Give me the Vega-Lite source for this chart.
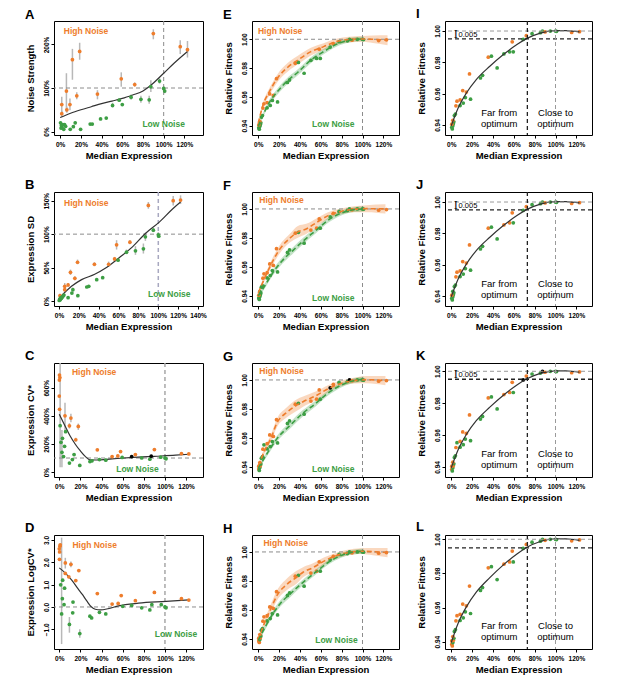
{
  "$schema": "https://vega.github.io/schema/vega-lite/v6.json",
  "padding": {"left": 24, "top": 7, "right": 4, "bottom": 2},
  "background": "white",
  "datasets": {
    "pA": [
      {"x":1.5,"y":41,"lo":34,"hi":48,"g":"H"},{"x":1.5,"y":62,"lo":45,"hi":80,"g":"H"},{"x":6,"y":93,"lo":45,"hi":134,"g":"H"},
      {"x":6.4,"y":50,"lo":43,"hi":57,"g":"H"},{"x":9.4,"y":62,"lo":49,"hi":76,"g":"H"},{"x":11.8,"y":165,"lo":119,"hi":190,"g":"H"},
      {"x":16,"y":82,"lo":74,"hi":90,"g":"H"},{"x":18.8,"y":184,"lo":165,"hi":204,"g":"H"},{"x":36,"y":86,"lo":74,"hi":95,"g":"H"},
      {"x":59,"y":121,"lo":103,"hi":136,"g":"H"},{"x":72,"y":108,"lo":103,"hi":113,"g":"H"},{"x":90,"y":225,"lo":212,"hi":235,"g":"H"},
      {"x":116,"y":195,"lo":178,"hi":210,"g":"H"},{"x":123,"y":188,"lo":170,"hi":208,"g":"H"},
      {"x":0.3,"y":20,"g":"L"},{"x":0.8,"y":8,"g":"L"},{"x":1.2,"y":14,"lo":9,"hi":19,"g":"L"},{"x":1.8,"y":9,"g":"L"},
      {"x":2.6,"y":16,"g":"L"},{"x":3.4,"y":5,"g":"L"},{"x":4.2,"y":16,"g":"L"},{"x":5.2,"y":12,"g":"L"},
      {"x":9.7,"y":5,"g":"L"},{"x":12.7,"y":11,"g":"L"},{"x":14.5,"y":20,"lo":16,"hi":24,"g":"L"},{"x":19.7,"y":5,"g":"L"},
      {"x":29,"y":17,"g":"L"},{"x":31,"y":17,"g":"L"},{"x":39,"y":29,"g":"L"},{"x":44.5,"y":31,"g":"L"},
      {"x":50.6,"y":60,"lo":55,"hi":66,"g":"L"},{"x":57,"y":72,"g":"L"},{"x":60,"y":62,"g":"L"},{"x":68.5,"y":79,"lo":73,"hi":85,"g":"L"},
      {"x":78,"y":74,"lo":66,"hi":82,"g":"L"},{"x":86,"y":73,"lo":64,"hi":82,"g":"L"},{"x":87.6,"y":103,"lo":91,"hi":118,"g":"L"},
      {"x":96,"y":116,"lo":110,"hi":122,"g":"L"},{"x":100,"y":99,"lo":94,"hi":104,"g":"L"},{"x":101,"y":93,"lo":88,"hi":98,"g":"L"}
    ],
    "pB": [
      {"x":1,"y":8,"lo":5,"hi":11,"g":"H"},{"x":5.8,"y":22,"lo":18,"hi":27,"g":"H"},{"x":5.8,"y":17,"lo":14,"hi":20,"g":"H"},
      {"x":9.2,"y":24,"lo":21,"hi":27,"g":"H"},{"x":11.6,"y":43,"lo":39,"hi":47,"g":"H"},{"x":16,"y":34,"lo":31,"hi":37,"g":"H"},
      {"x":18.7,"y":58,"lo":55,"hi":62,"g":"H"},{"x":35.7,"y":55,"lo":52,"hi":58,"g":"H"},{"x":50,"y":55,"lo":51,"hi":59,"g":"H"},
      {"x":56,"y":63,"lo":60,"hi":66,"g":"H"},{"x":58,"y":84,"lo":77,"hi":91,"g":"H"},{"x":71.4,"y":88,"lo":85,"hi":91,"g":"H"},
      {"x":90,"y":143,"lo":138,"hi":148,"g":"H"},{"x":115,"y":150,"lo":143,"hi":157,"g":"H"},{"x":122.4,"y":151,"lo":145,"hi":158,"g":"H"},
      {"x":0.3,"y":1,"g":"L"},{"x":0.8,"y":3,"g":"L"},{"x":1.3,"y":2,"g":"L"},{"x":1.8,"y":5,"g":"L"},{"x":2.5,"y":4,"g":"L"},
      {"x":3.2,"y":6,"g":"L"},{"x":4,"y":7,"g":"L"},{"x":5,"y":9,"g":"L"},{"x":9.2,"y":5,"g":"L"},{"x":13,"y":12,"g":"L"},
      {"x":14,"y":17,"lo":14,"hi":20,"g":"L"},{"x":19,"y":8,"g":"L"},{"x":28,"y":21,"g":"L"},{"x":30,"y":22,"g":"L"},
      {"x":38,"y":32,"g":"L"},{"x":44,"y":35,"g":"L"},{"x":59.5,"y":61,"g":"L"},{"x":68,"y":73,"lo":70,"hi":77,"g":"L"},
      {"x":77,"y":75,"lo":69,"hi":82,"g":"L"},{"x":85,"y":78,"lo":71,"hi":86,"g":"L"},{"x":87,"y":96,"lo":90,"hi":102,"g":"L"},
      {"x":95,"y":106,"lo":103,"hi":109,"g":"L"},{"x":100,"y":99,"lo":95,"hi":103,"g":"L"},{"x":100.5,"y":97,"g":"L"}
    ],
    "pC": [
      {"x":0.2,"y":690,"g":"H"},{"x":0.6,"y":672,"g":"H"},{"x":0.1,"y":655,"g":"H"},{"x":0,"y":541,"g":"H"},{"x":0.3,"y":447,"g":"H"},
      {"x":5.4,"y":400,"lo":282,"hi":494,"g":"H"},{"x":9.6,"y":329,"lo":310,"hi":348,"g":"H"},{"x":11,"y":384,"lo":355,"hi":415,"g":"H"},
      {"x":15.6,"y":230,"lo":215,"hi":245,"g":"H"},{"x":18,"y":325,"lo":300,"hi":345,"g":"H"},{"x":36,"y":158,"g":"H"},
      {"x":50,"y":110,"g":"H"},{"x":55.4,"y":115,"g":"H"},{"x":58,"y":146,"g":"H"},{"x":72,"y":125,"g":"H"},
      {"x":90,"y":160,"g":"H"},{"x":115.6,"y":132,"g":"H"},{"x":122.6,"y":129,"g":"H"},
      {"x":0.8,"y":330,"lo":35,"hi":776,"g":"L"},{"x":1.6,"y":212,"g":"L"},{"x":2.5,"y":141,"lo":35,"hi":300,"g":"L"},
      {"x":3,"y":240,"g":"L"},{"x":4,"y":110,"g":"L"},{"x":5,"y":183,"g":"L"},{"x":6,"y":287,"g":"L"},
      {"x":9.6,"y":64,"g":"L"},{"x":12.4,"y":89,"g":"L"},{"x":14,"y":125,"g":"L"},{"x":19.4,"y":47,"g":"L"},
      {"x":29,"y":75,"g":"L"},{"x":31,"y":80,"g":"L"},{"x":38,"y":89,"g":"L"},{"x":44,"y":85,"g":"L"},
      {"x":59.5,"y":104,"g":"L"},{"x":78,"y":101,"g":"L"},{"x":85.7,"y":92,"g":"L"},{"x":96,"y":106,"g":"L"},
      {"x":100,"y":101,"g":"L"},{"x":101,"y":94,"g":"L"},
      {"x":68.5,"y":110,"g":"M"},{"x":87,"y":113,"g":"M"}
    ],
    "pD": [
      {"x":0,"y":2.6,"g":"H"},{"x":0.3,"y":2.46,"g":"H"},{"x":0.6,"y":2.72,"g":"H"},{"x":0.9,"y":2.78,"g":"H"},{"x":0.2,"y":2.13,"g":"H"},
      {"x":5.7,"y":1.97,"lo":1.72,"hi":2.2,"g":"H"},{"x":5.7,"y":1.5,"g":"H"},{"x":9,"y":1.35,"g":"H"},
      {"x":11,"y":1.91,"lo":1.78,"hi":2.03,"g":"H"},{"x":15.6,"y":1.18,"g":"H"},{"x":18.5,"y":1.63,"g":"H"},
      {"x":36,"y":0.6,"g":"H"},{"x":50,"y":0.13,"g":"H"},{"x":55.7,"y":0.16,"g":"H"},{"x":58.6,"y":0.51,"g":"H"},
      {"x":72,"y":0.28,"g":"H"},{"x":90,"y":0.65,"g":"H"},{"x":115.6,"y":0.37,"g":"H"},{"x":122.6,"y":0.31,"g":"H"},
      {"x":1.3,"y":0.99,"g":"L"},{"x":2.2,"y":-0.31,"lo":-1.66,"hi":3.1,"g":"L"},{"x":2.9,"y":0.37,"g":"L"},
      {"x":3.2,"y":1.2,"g":"L"},{"x":4.5,"y":0.1,"g":"L"},{"x":5,"y":0.84,"g":"L"},
      {"x":9.6,"y":-0.78,"lo":-1.15,"hi":-0.45,"g":"L"},{"x":12.7,"y":-0.26,"g":"L"},{"x":13,"y":0.22,"g":"L"},
      {"x":19.4,"y":-1.19,"lo":-1.38,"hi":-1.0,"g":"L"},{"x":29,"y":-0.41,"g":"L"},{"x":30.6,"y":-0.49,"g":"L"},
      {"x":38,"y":-0.24,"g":"L"},{"x":44,"y":-0.31,"g":"L"},{"x":60,"y":0.03,"g":"L"},{"x":68.5,"y":0.07,"g":"L"},
      {"x":78,"y":-0.04,"g":"L"},{"x":85.7,"y":-0.13,"g":"L"},{"x":87.6,"y":0.1,"g":"L"},{"x":96.5,"y":0.1,"g":"L"},
      {"x":100,"y":0,"g":"L"},{"x":101,"y":-0.04,"g":"L"}
    ],
    "cA": [{"x":0,"y":32},{"x":10,"y":42},{"x":20,"y":50},{"x":30,"y":57},{"x":40,"y":64},{"x":50,"y":70},{"x":60,"y":76},{"x":70,"y":84},{"x":80,"y":93},{"x":87,"y":105},{"x":100,"y":134},{"x":110,"y":157},{"x":123,"y":184}],
    "cB": [{"x":0.7,"y":5},{"x":12.6,"y":22},{"x":22.8,"y":32},{"x":36,"y":40},{"x":46.6,"y":49},{"x":60,"y":64},{"x":74,"y":81},{"x":87,"y":101},{"x":101,"y":118},{"x":114.6,"y":138},{"x":122.4,"y":148}],
    "cC": [{"x":0,"y":412},{"x":5,"y":335},{"x":10,"y":260},{"x":15,"y":200},{"x":20,"y":150},{"x":25,"y":108},{"x":29,"y":87},{"x":35,"y":86},{"x":50,"y":94},{"x":70,"y":104},{"x":90,"y":112},{"x":110,"y":120},{"x":123,"y":127}],
    "cD": [{"x":0,"y":1.75},{"x":5,"y":1.55},{"x":11.8,"y":1.2},{"x":18,"y":0.8},{"x":22,"y":0.55},{"x":26,"y":0.27},{"x":30,"y":0.02},{"x":34,"y":-0.1},{"x":39,"y":-0.13},{"x":46,"y":-0.08},{"x":56,"y":0.05},{"x":75,"y":0.17},{"x":101,"y":0.25},{"x":122.6,"y":0.32}],
    "fit": [
      {"x":0.5,"f":0.9385,"a":"L","b":"L","c":"H","d":"H"},{"x":1.0,"f":0.9375,"a":"L","b":"L","c":"L","d":"H"},
      {"x":1.5,"f":0.9395,"a":"L","b":"L","c":"L","d":"L"},{"x":2.0,"f":0.9408,"a":"L","b":"L","c":"H","d":"H"},
      {"x":2.5,"f":0.942,"a":"L","b":"L","c":"L","d":"L"},{"x":3.0,"f":0.946,"a":"L","b":"L","c":"L","d":"L"},
      {"x":4.0,"f":0.947,"a":"L","b":"L","c":"L","d":"L"},{"x":0.5,"f":0.9405,"a":"H","b":"H","c":"H","d":"H"},
      {"x":1.5,"f":0.943,"a":"H","b":"L","c":"H","d":"H"},{"x":4.5,"f":0.9522,"a":"H","b":"H","c":"H","d":"H"},
      {"x":5.5,"f":0.9552,"a":"H","b":"H","c":"L","d":"H"},{"x":8.5,"f":0.956,"a":"H","b":"H","c":"H","d":"H"},
      {"x":11,"f":0.962,"a":"H","b":"H","c":"H","d":"H"},{"x":14.5,"f":0.961,"a":"H","b":"H","c":"H","d":"H"},
      {"x":17.5,"f":0.9726,"a":"H","b":"H","c":"H","d":"H"},{"x":8.5,"f":0.9524,"a":"L","b":"L","c":"L","d":"L"},
      {"x":11.5,"f":0.954,"a":"L","b":"L","c":"L","d":"L"},{"x":13.5,"f":0.9575,"a":"L","b":"L","c":"L","d":"L"},
      {"x":18.5,"f":0.9565,"a":"L","b":"L","c":"L","d":"L"},{"x":28,"f":0.97,"a":"L","b":"L","c":"L","d":"L"},
      {"x":30,"f":0.9717,"a":"L","b":"L","c":"L","d":"L"},{"x":35.5,"f":0.9833,"a":"H","b":"H","c":"H","d":"H"},
      {"x":38.5,"f":0.9839,"a":"L","b":"L","c":"L","d":"L"},{"x":44,"f":0.9764,"a":"L","b":"L","c":"L","d":"L"},
      {"x":50.5,"f":0.9854,"a":"L","b":"H","c":"H","d":"H"},{"x":56,"f":0.9867,"a":"L","b":"H","c":"H","d":"H"},
      {"x":59.5,"f":0.9867,"a":"L","b":"L","c":"L","d":"L"},{"x":58.5,"f":0.9931,"a":"H","b":"H","c":"H","d":"H"},
      {"x":69,"f":0.9946,"a":"L","b":"L","c":"M","d":"L"},{"x":72,"f":0.997,"a":"H","b":"H","c":"H","d":"H"},
      {"x":77.5,"f":0.9983,"a":"L","b":"L","c":"L","d":"L"},{"x":85.5,"f":0.9989,"a":"L","b":"L","c":"L","d":"L"},
      {"x":87.5,"f":1.0,"a":"L","b":"L","c":"M","d":"L"},{"x":90,"f":0.9994,"a":"H","b":"H","c":"H","d":"H"},
      {"x":95,"f":1.0,"a":"L","b":"L","c":"L","d":"L"},{"x":100,"f":1.0,"a":"L","b":"L","c":"L","d":"L"},
      {"x":101,"f":0.9998,"a":"L","b":"L","c":"L","d":"L"},{"x":115.5,"f":0.9991,"a":"H","b":"H","c":"H","d":"H"},
      {"x":123,"f":0.9996,"a":"H","b":"H","c":"H","d":"H"}
    ],
    "bE": [
      {"x":0,"y":0.9415,"lo":0.94,"hi":0.943,"g":"H"},{"x":4.6,"y":0.9544,"lo":0.9525,"hi":0.9563,"g":"H"},
      {"x":10.7,"y":0.9636,"lo":0.9612,"hi":0.966,"g":"H"},{"x":18.3,"y":0.9729,"lo":0.9702,"hi":0.9756,"g":"H"},
      {"x":29,"y":0.981,"lo":0.978,"hi":0.984,"g":"H"},{"x":38,"y":0.9856,"lo":0.9826,"hi":0.9886,"g":"H"},
      {"x":50.5,"y":0.9914,"lo":0.9887,"hi":0.9941,"g":"H"},{"x":62.7,"y":0.9949,"lo":0.9925,"hi":0.9973,"g":"H"},
      {"x":75,"y":0.9984,"lo":0.9964,"hi":1.0004,"g":"H"},{"x":87,"y":0.9998,"lo":0.9978,"hi":1.0018,"g":"H"},
      {"x":99.4,"y":1.0002,"lo":0.9982,"hi":1.0022,"g":"H"},{"x":110,"y":1.0,"lo":0.9974,"hi":1.0026,"g":"H"},
      {"x":124,"y":0.9993,"lo":0.9958,"hi":1.0028,"g":"H"},
      {"x":0,"y":0.9395,"lo":0.9382,"hi":0.9408,"g":"L"},{"x":4.6,"y":0.9474,"lo":0.9458,"hi":0.949,"g":"L"},
      {"x":10.7,"y":0.9562,"lo":0.9543,"hi":0.9581,"g":"L"},{"x":18.3,"y":0.9636,"lo":0.9615,"hi":0.9657,"g":"L"},
      {"x":29,"y":0.9718,"lo":0.9697,"hi":0.9739,"g":"L"},{"x":38,"y":0.9771,"lo":0.975,"hi":0.9792,"g":"L"},
      {"x":50.5,"y":0.9856,"lo":0.9836,"hi":0.9876,"g":"L"},{"x":62.7,"y":0.9914,"lo":0.9896,"hi":0.9932,"g":"L"},
      {"x":75,"y":0.9965,"lo":0.9948,"hi":0.9982,"g":"L"},{"x":87,"y":0.9993,"lo":0.9977,"hi":1.0009,"g":"L"},
      {"x":99.4,"y":1.0002,"lo":0.9986,"hi":1.0018,"g":"L"},{"x":101,"y":1.0002,"lo":0.9986,"hi":1.0018,"g":"L"}
    ],
    "bF": [
      {"x":0,"y":0.942,"lo":0.9405,"hi":0.9435,"g":"H"},{"x":7.6,"y":0.9546,"lo":0.9526,"hi":0.9566,"g":"H"},
      {"x":13.8,"y":0.9638,"lo":0.9613,"hi":0.9663,"g":"H"},{"x":20,"y":0.9716,"lo":0.9688,"hi":0.9744,"g":"H"},
      {"x":30.6,"y":0.98,"lo":0.977,"hi":0.983,"g":"H"},{"x":38,"y":0.9842,"lo":0.9802,"hi":0.9882,"g":"H"},
      {"x":46,"y":0.9862,"lo":0.9827,"hi":0.9897,"g":"H"},{"x":56.6,"y":0.991,"lo":0.9882,"hi":0.9938,"g":"H"},
      {"x":67,"y":0.9954,"lo":0.993,"hi":0.9978,"g":"H"},{"x":79.5,"y":0.9983,"lo":0.9963,"hi":1.0003,"g":"H"},
      {"x":91.7,"y":0.9998,"lo":0.9978,"hi":1.0018,"g":"H"},{"x":104,"y":1.0002,"lo":0.9978,"hi":1.0026,"g":"H"},
      {"x":122,"y":1.0,"lo":0.9968,"hi":1.0032,"g":"H"},
      {"x":0,"y":0.94,"lo":0.9387,"hi":0.9413,"g":"L"},{"x":7.6,"y":0.9485,"lo":0.9467,"hi":0.9503,"g":"L"},
      {"x":13.8,"y":0.9558,"lo":0.9538,"hi":0.9578,"g":"L"},{"x":23,"y":0.9643,"lo":0.9621,"hi":0.9665,"g":"L"},
      {"x":33.6,"y":0.9716,"lo":0.9694,"hi":0.9738,"g":"L"},{"x":42.8,"y":0.9777,"lo":0.9755,"hi":0.9799,"g":"L"},
      {"x":55,"y":0.985,"lo":0.983,"hi":0.987,"g":"L"},{"x":67,"y":0.9922,"lo":0.9904,"hi":0.994,"g":"L"},
      {"x":79.5,"y":0.9971,"lo":0.9955,"hi":0.9987,"g":"L"},{"x":91.7,"y":0.9995,"lo":0.9979,"hi":1.0011,"g":"L"},
      {"x":101,"y":1.0,"lo":0.9982,"hi":1.0018,"g":"L"}
    ],
    "bG": [
      {"x":0,"y":0.9405,"lo":0.939,"hi":0.942,"g":"H"},{"x":6,"y":0.951,"lo":0.949,"hi":0.953,"g":"H"},
      {"x":12,"y":0.9595,"lo":0.957,"hi":0.962,"g":"H"},{"x":18,"y":0.9704,"lo":0.9674,"hi":0.9734,"g":"H"},
      {"x":27.5,"y":0.9777,"lo":0.9742,"hi":0.9812,"g":"H"},{"x":36.7,"y":0.9825,"lo":0.9785,"hi":0.9865,"g":"H"},
      {"x":43,"y":0.985,"lo":0.9815,"hi":0.9885,"g":"H"},{"x":55,"y":0.989,"lo":0.986,"hi":0.992,"g":"H"},
      {"x":67,"y":0.9939,"lo":0.9914,"hi":0.9964,"g":"H"},{"x":79.5,"y":0.9976,"lo":0.9956,"hi":0.9996,"g":"H"},
      {"x":91.7,"y":0.9995,"lo":0.9975,"hi":1.0015,"g":"H"},{"x":104,"y":1.0002,"lo":0.9977,"hi":1.0027,"g":"H"},
      {"x":122,"y":0.9995,"lo":0.9963,"hi":1.0027,"g":"H"},
      {"x":0,"y":0.939,"lo":0.9377,"hi":0.9403,"g":"L"},{"x":9,"y":0.9498,"lo":0.948,"hi":0.9516,"g":"L"},
      {"x":18,"y":0.9595,"lo":0.9575,"hi":0.9615,"g":"L"},{"x":30.6,"y":0.9687,"lo":0.9665,"hi":0.9709,"g":"L"},
      {"x":42.8,"y":0.977,"lo":0.9748,"hi":0.9792,"g":"L"},{"x":55,"y":0.9837,"lo":0.9817,"hi":0.9857,"g":"L"},
      {"x":67,"y":0.991,"lo":0.9892,"hi":0.9928,"g":"L"},{"x":79.5,"y":0.9964,"lo":0.9948,"hi":0.998,"g":"L"},
      {"x":91.7,"y":0.9995,"lo":0.9979,"hi":1.0011,"g":"L"},{"x":101,"y":1.0005,"lo":0.9987,"hi":1.0023,"g":"L"}
    ],
    "bH": [
      {"x":0,"y":0.939,"lo":0.9375,"hi":0.9405,"g":"H"},{"x":6,"y":0.951,"lo":0.949,"hi":0.953,"g":"H"},
      {"x":12,"y":0.9607,"lo":0.9577,"hi":0.9637,"g":"H"},{"x":18,"y":0.97,"lo":0.9665,"hi":0.9735,"g":"H"},
      {"x":27.5,"y":0.9777,"lo":0.9737,"hi":0.9817,"g":"H"},{"x":36.7,"y":0.9825,"lo":0.978,"hi":0.987,"g":"H"},
      {"x":43,"y":0.986,"lo":0.9825,"hi":0.9895,"g":"H"},{"x":52,"y":0.989,"lo":0.986,"hi":0.992,"g":"H"},
      {"x":64,"y":0.994,"lo":0.9915,"hi":0.9965,"g":"H"},{"x":73,"y":0.997,"lo":0.995,"hi":0.999,"g":"H"},
      {"x":85.6,"y":0.9995,"lo":0.9975,"hi":1.0015,"g":"H"},{"x":98,"y":1.0005,"lo":0.9985,"hi":1.0025,"g":"H"},
      {"x":110,"y":1.0002,"lo":0.9977,"hi":1.0027,"g":"H"},{"x":124,"y":0.9995,"lo":0.9963,"hi":1.0027,"g":"H"},
      {"x":0,"y":0.939,"lo":0.9377,"hi":0.9403,"g":"L"},{"x":6,"y":0.9473,"lo":0.9455,"hi":0.9491,"g":"L"},
      {"x":12,"y":0.955,"lo":0.953,"hi":0.957,"g":"L"},{"x":21,"y":0.9643,"lo":0.9621,"hi":0.9665,"g":"L"},
      {"x":30.6,"y":0.971,"lo":0.9688,"hi":0.9732,"g":"L"},{"x":43,"y":0.979,"lo":0.977,"hi":0.981,"g":"L"},
      {"x":55,"y":0.986,"lo":0.9842,"hi":0.9878,"g":"L"},{"x":67,"y":0.9927,"lo":0.9911,"hi":0.9943,"g":"L"},
      {"x":79.5,"y":0.9976,"lo":0.996,"hi":0.9992,"g":"L"},{"x":91.7,"y":1.0,"lo":0.9984,"hi":1.0016,"g":"L"},
      {"x":101,"y":1.0005,"lo":0.9987,"hi":1.0023,"g":"L"}
    ],
    "opt": [{"x":0,"y":0.9395},{"x":6.5,"y":0.9507},{"x":14.5,"y":0.9604},{"x":24,"y":0.969},{"x":37,"y":0.9775},{"x":50,"y":0.985},{"x":63,"y":0.9914},{"x":72.6,"y":0.9953},{"x":85.5,"y":0.9987},{"x":100,"y":1.0003},{"x":110,"y":1.0002},{"x":123,"y":0.9994}]
  },
  "columns": 3,
  "spacing": {"row": 17, "column": 15},
  "concat": [
    {"title": "A", "width": 149, "height": 114, "layer": [
      {"data": {"name": "pA"}, "mark": {"type": "rule", "color": "#b8b8b8", "strokeWidth": 1.5},
       "encoding": {"x": {"field": "x", "type": "quantitative", "title": "Median Expression", "scale": {"domain": [-6, 138], "nice": false, "zero": false}, "axis": {"values": [0,20,40,60,80,100,120], "labelExpr": "datum.value + '%'", "labelOverlap": false, "tickCount": 12}},
                    "y": {"field": "lo", "type": "quantitative", "title": "Noise Strength", "scale": {"domain": [-8, 254], "nice": false, "zero": false}, "axis": {"values": [0,100,200], "labelExpr": "datum.value + '%'", "labelOverlap": false, "tickCount": 12}},
                    "y2": {"field": "hi"}}},
      {"data": {"values": [{}]}, "mark": {"type": "rule", "color": "#8c8c8c", "strokeDash": [4,3]}, "encoding": {"y": {"datum": 100, "type": "quantitative"}}},
      {"data": {"values": [{}]}, "mark": {"type": "rule", "color": "#8c8c8c", "strokeDash": [4,3]}, "encoding": {"x": {"datum": 100, "type": "quantitative"}}},
      {"data": {"name": "cA"}, "mark": {"type": "line", "color": "#333", "strokeWidth": 1.2, "interpolate": "monotone"}, "encoding": {"x": {"field": "x", "type": "quantitative"}, "y": {"field": "y", "type": "quantitative"}}},
      {"data": {"name": "pA"}, "mark": {"type": "circle", "size": 14, "opacity": 1}, "encoding": {"x": {"field": "x", "type": "quantitative"}, "y": {"field": "y", "type": "quantitative"}, "color": {"field": "g", "type": "nominal", "scale": {"domain": ["H","L","M"], "range": ["#EE7D2C","#3D9E44","#000000"]}, "legend": null}}},
      {"data": {"values": [{"x": 25, "y": 231, "t": "High Noise", "g": "H"}, {"x": 100, "y": 18, "t": "Low Noise", "g": "L"}]}, "mark": {"type": "text", "fontWeight": "bold", "fontSize": 8.5}, "encoding": {"x": {"field": "x", "type": "quantitative"}, "y": {"field": "y", "type": "quantitative"}, "text": {"field": "t"}, "color": {"field": "g", "type": "nominal", "legend": null}}}
    ]},
    {"title": "E", "width": 147, "height": 114, "layer": [
      {"data": {"name": "bE"}, "mark": {"type": "area", "opacity": 0.3, "interpolate": "monotone"},
       "encoding": {"x": {"field": "x", "type": "quantitative", "title": "Median Expression", "scale": {"domain": [-6, 135], "nice": false, "zero": false}, "axis": {"values": [0,20,40,60,80,100,120], "labelExpr": "datum.value + '%'", "labelOverlap": false, "tickCount": 12}},
                    "y": {"field": "lo", "type": "quantitative", "stack": null, "title": "Relative Fitness", "scale": {"domain": [0.9335, 1.0127], "nice": false, "zero": false}, "axis": {"values": [0.94,0.96,0.98,1.0], "format": ".2f", "labelOverlap": false, "tickCount": 12}},
                    "y2": {"field": "hi"},
                    "color": {"field": "g", "type": "nominal", "scale": {"domain": ["H","L","M"], "range": ["#EE7D2C","#3D9E44","#000000"]}, "legend": null}}},
      {"data": {"values": [{}]}, "mark": {"type": "rule", "color": "#8c8c8c", "strokeDash": [4,3]}, "encoding": {"y": {"datum": 1.0, "type": "quantitative"}}},
      {"data": {"values": [{}]}, "mark": {"type": "rule", "color": "#8c8c8c", "strokeDash": [4,3]}, "encoding": {"x": {"datum": 100, "type": "quantitative"}}},
      {"data": {"name": "fit"}, "mark": {"type": "circle", "size": 14, "opacity": 1}, "encoding": {"x": {"field": "x", "type": "quantitative"}, "y": {"field": "f", "type": "quantitative"}, "color": {"field": "a", "type": "nominal", "legend": null}}},
      {"data": {"name": "bE"}, "mark": {"type": "line", "strokeDash": [5,3], "strokeWidth": 1.6, "interpolate": "monotone"}, "encoding": {"x": {"field": "x", "type": "quantitative"}, "y": {"field": "y", "type": "quantitative"}, "color": {"field": "g", "type": "nominal", "legend": null}}},
      {"data": {"values": [{"x": 21, "y": 1.0058, "t": "High Noise", "g": "H"}, {"x": 72, "y": 0.9412, "t": "Low Noise", "g": "L"}]}, "mark": {"type": "text", "fontWeight": "bold", "fontSize": 8.5}, "encoding": {"x": {"field": "x", "type": "quantitative"}, "y": {"field": "y", "type": "quantitative"}, "text": {"field": "t"}, "color": {"field": "g", "type": "nominal", "legend": null}}}
    ]},
    {"title": "I", "width": 147, "height": 114, "layer": [
      {"data": {"name": "fit"}, "mark": {"type": "circle", "size": 14, "opacity": 1},
       "encoding": {"x": {"field": "x", "type": "quantitative", "title": "Median Expression", "scale": {"domain": [-6, 135], "nice": false, "zero": false}, "axis": {"values": [0,20,40,60,80,100,120], "labelExpr": "datum.value + '%'", "labelOverlap": false, "tickCount": 12}},
                    "y": {"field": "f", "type": "quantitative", "title": "Relative Fitness", "scale": {"domain": [0.9336, 1.0064], "nice": false, "zero": false}, "axis": {"values": [0.94,0.96,0.98,1.0], "format": ".2f", "labelOverlap": false, "tickCount": 12}},
                    "color": {"field": "a", "type": "nominal", "scale": {"domain": ["H","L","M"], "range": ["#EE7D2C","#3D9E44","#000000"]}, "legend": null}}},
      {"data": {"name": "opt"}, "mark": {"type": "line", "color": "#333", "strokeWidth": 1.2, "interpolate": "monotone"}, "encoding": {"x": {"field": "x", "type": "quantitative"}, "y": {"field": "y", "type": "quantitative"}}},
      {"data": {"values": [{}]}, "mark": {"type": "rule", "color": "#9a9a9a", "strokeDash": [4,3]}, "encoding": {"y": {"datum": 1.0, "type": "quantitative"}}},
      {"data": {"values": [{}]}, "mark": {"type": "rule", "color": "#222", "strokeDash": [4,3], "strokeWidth": 1.3}, "encoding": {"y": {"datum": 0.995, "type": "quantitative"}}},
      {"data": {"values": [{}]}, "mark": {"type": "rule", "color": "#222", "strokeDash": [4,3], "strokeWidth": 1.3}, "encoding": {"x": {"datum": 73, "type": "quantitative"}}},
      {"data": {"values": [{}]}, "mark": {"type": "rule", "color": "#9a9a9a", "strokeDash": [4,3]}, "encoding": {"x": {"datum": 100, "type": "quantitative"}}},
      {"data": {"values": [{"x": 4.5, "y": 0.99775, "t": "I"}]}, "mark": {"type": "text", "font": "DejaVu Serif", "fontSize": 10.5, "baseline": "middle"}, "encoding": {"x": {"field": "x", "type": "quantitative"}, "y": {"field": "y", "type": "quantitative"}, "text": {"field": "t"}}},
      {"data": {"values": [{"x": 7, "y": 0.99765, "t": "0.005"}]}, "mark": {"type": "text", "fontSize": 7.5, "align": "left", "baseline": "middle"}, "encoding": {"x": {"field": "x", "type": "quantitative"}, "y": {"field": "y", "type": "quantitative"}, "text": {"field": "t"}}},
      {"data": {"values": [{"x": 46, "y": 0.9475, "t": "Far from"}, {"x": 46, "y": 0.9404, "t": "optimum"}, {"x": 100, "y": 0.9475, "t": "Close to"}, {"x": 100, "y": 0.9404, "t": "optimum"}]}, "mark": {"type": "text", "fontSize": 9.5, "baseline": "middle"}, "encoding": {"x": {"field": "x", "type": "quantitative"}, "y": {"field": "y", "type": "quantitative"}, "text": {"field": "t"}}}
    ]},
    {"title": "B", "width": 149, "height": 114, "layer": [
      {"data": {"name": "pB"}, "mark": {"type": "rule", "color": "#b8b8b8", "strokeWidth": 1.5},
       "encoding": {"x": {"field": "x", "type": "quantitative", "title": "Median Expression", "scale": {"domain": [-5, 145], "nice": false, "zero": false}, "axis": {"values": [0,20,40,60,80,100,120,140], "labelExpr": "datum.value + '%'", "labelOverlap": false, "tickCount": 12}},
                    "y": {"field": "lo", "type": "quantitative", "title": "Expression SD", "scale": {"domain": [-7.4, 163], "nice": false, "zero": false}, "axis": {"values": [0,50,100,150], "labelExpr": "datum.value + '%'", "labelOverlap": false, "tickCount": 12}},
                    "y2": {"field": "hi"}}},
      {"data": {"values": [{}]}, "mark": {"type": "rule", "color": "#8c8c8c", "strokeDash": [4,3]}, "encoding": {"y": {"datum": 100, "type": "quantitative"}}},
      {"data": {"values": [{}]}, "mark": {"type": "rule", "color": "#a8a8c0", "strokeDash": [4,3], "strokeWidth": 1.5}, "encoding": {"x": {"datum": 100, "type": "quantitative"}}},
      {"data": {"name": "cB"}, "mark": {"type": "line", "color": "#333", "strokeWidth": 1.2, "interpolate": "monotone"}, "encoding": {"x": {"field": "x", "type": "quantitative"}, "y": {"field": "y", "type": "quantitative"}}},
      {"data": {"name": "pB"}, "mark": {"type": "circle", "size": 14, "opacity": 1}, "encoding": {"x": {"field": "x", "type": "quantitative"}, "y": {"field": "y", "type": "quantitative"}, "color": {"field": "g", "type": "nominal", "scale": {"domain": ["H","L","M"], "range": ["#EE7D2C","#3D9E44","#000000"]}, "legend": null}}},
      {"data": {"values": [{"x": 27.5, "y": 146.6, "t": "High Noise", "g": "H"}, {"x": 111, "y": 11, "t": "Low Noise", "g": "L"}]}, "mark": {"type": "text", "fontWeight": "bold", "fontSize": 8.5}, "encoding": {"x": {"field": "x", "type": "quantitative"}, "y": {"field": "y", "type": "quantitative"}, "text": {"field": "t"}, "color": {"field": "g", "type": "nominal", "legend": null}}}
    ]},
    {"title": "F", "width": 147, "height": 114, "layer": [
      {"data": {"name": "bF"}, "mark": {"type": "area", "opacity": 0.3, "interpolate": "monotone"},
       "encoding": {"x": {"field": "x", "type": "quantitative", "title": "Median Expression", "scale": {"domain": [-6, 135], "nice": false, "zero": false}, "axis": {"values": [0,20,40,60,80,100,120], "labelExpr": "datum.value + '%'", "labelOverlap": false, "tickCount": 12}},
                    "y": {"field": "lo", "type": "quantitative", "stack": null, "title": "Relative Fitness", "scale": {"domain": [0.933, 1.0117], "nice": false, "zero": false}, "axis": {"values": [0.94,0.96,0.98,1.0], "format": ".2f", "labelOverlap": false, "tickCount": 12}},
                    "y2": {"field": "hi"},
                    "color": {"field": "g", "type": "nominal", "scale": {"domain": ["H","L","M"], "range": ["#EE7D2C","#3D9E44","#000000"]}, "legend": null}}},
      {"data": {"values": [{}]}, "mark": {"type": "rule", "color": "#8c8c8c", "strokeDash": [4,3]}, "encoding": {"y": {"datum": 1.0, "type": "quantitative"}}},
      {"data": {"values": [{}]}, "mark": {"type": "rule", "color": "#8c8c8c", "strokeDash": [4,3]}, "encoding": {"x": {"datum": 100, "type": "quantitative"}}},
      {"data": {"name": "fit"}, "mark": {"type": "circle", "size": 14, "opacity": 1}, "encoding": {"x": {"field": "x", "type": "quantitative"}, "y": {"field": "f", "type": "quantitative"}, "color": {"field": "b", "type": "nominal", "legend": null}}},
      {"data": {"name": "bF"}, "mark": {"type": "line", "strokeDash": [5,3], "strokeWidth": 1.6, "interpolate": "monotone"}, "encoding": {"x": {"field": "x", "type": "quantitative"}, "y": {"field": "y", "type": "quantitative"}, "color": {"field": "g", "type": "nominal", "legend": null}}},
      {"data": {"values": [{"x": 22.3, "y": 1.0063, "t": "High Noise", "g": "H"}, {"x": 72, "y": 0.9388, "t": "Low Noise", "g": "L"}]}, "mark": {"type": "text", "fontWeight": "bold", "fontSize": 8.5}, "encoding": {"x": {"field": "x", "type": "quantitative"}, "y": {"field": "y", "type": "quantitative"}, "text": {"field": "t"}, "color": {"field": "g", "type": "nominal", "legend": null}}}
    ]},
    {"title": "J", "width": 147, "height": 114, "layer": [
      {"data": {"name": "fit"}, "mark": {"type": "circle", "size": 14, "opacity": 1},
       "encoding": {"x": {"field": "x", "type": "quantitative", "title": "Median Expression", "scale": {"domain": [-6, 135], "nice": false, "zero": false}, "axis": {"values": [0,20,40,60,80,100,120], "labelExpr": "datum.value + '%'", "labelOverlap": false, "tickCount": 12}},
                    "y": {"field": "f", "type": "quantitative", "title": "Relative Fitness", "scale": {"domain": [0.9336, 1.0064], "nice": false, "zero": false}, "axis": {"values": [0.94,0.96,0.98,1.0], "format": ".2f", "labelOverlap": false, "tickCount": 12}},
                    "color": {"field": "b", "type": "nominal", "scale": {"domain": ["H","L","M"], "range": ["#EE7D2C","#3D9E44","#000000"]}, "legend": null}}},
      {"data": {"name": "opt"}, "mark": {"type": "line", "color": "#333", "strokeWidth": 1.2, "interpolate": "monotone"}, "encoding": {"x": {"field": "x", "type": "quantitative"}, "y": {"field": "y", "type": "quantitative"}}},
      {"data": {"values": [{}]}, "mark": {"type": "rule", "color": "#9a9a9a", "strokeDash": [4,3]}, "encoding": {"y": {"datum": 1.0, "type": "quantitative"}}},
      {"data": {"values": [{}]}, "mark": {"type": "rule", "color": "#222", "strokeDash": [4,3], "strokeWidth": 1.3}, "encoding": {"y": {"datum": 0.995, "type": "quantitative"}}},
      {"data": {"values": [{}]}, "mark": {"type": "rule", "color": "#222", "strokeDash": [4,3], "strokeWidth": 1.3}, "encoding": {"x": {"datum": 73, "type": "quantitative"}}},
      {"data": {"values": [{}]}, "mark": {"type": "rule", "color": "#9a9a9a", "strokeDash": [4,3]}, "encoding": {"x": {"datum": 100, "type": "quantitative"}}},
      {"data": {"values": [{"x": 4.5, "y": 0.99775, "t": "I"}]}, "mark": {"type": "text", "font": "DejaVu Serif", "fontSize": 10.5, "baseline": "middle"}, "encoding": {"x": {"field": "x", "type": "quantitative"}, "y": {"field": "y", "type": "quantitative"}, "text": {"field": "t"}}},
      {"data": {"values": [{"x": 7, "y": 0.99765, "t": "0.005"}]}, "mark": {"type": "text", "fontSize": 7.5, "align": "left", "baseline": "middle"}, "encoding": {"x": {"field": "x", "type": "quantitative"}, "y": {"field": "y", "type": "quantitative"}, "text": {"field": "t"}}},
      {"data": {"values": [{"x": 46, "y": 0.9475, "t": "Far from"}, {"x": 46, "y": 0.9404, "t": "optimum"}, {"x": 100, "y": 0.9475, "t": "Close to"}, {"x": 100, "y": 0.9404, "t": "optimum"}]}, "mark": {"type": "text", "fontSize": 9.5, "baseline": "middle"}, "encoding": {"x": {"field": "x", "type": "quantitative"}, "y": {"field": "y", "type": "quantitative"}, "text": {"field": "t"}}}
    ]},
    {"title": "C", "width": 149, "height": 114, "layer": [
      {"data": {"name": "pC"}, "mark": {"type": "rule", "color": "#b8b8b8", "strokeWidth": 1.5},
       "encoding": {"x": {"field": "x", "type": "quantitative", "title": "Median Expression", "scale": {"domain": [-5, 136], "nice": false, "zero": false}, "axis": {"values": [0,20,40,60,80,100,120], "labelExpr": "datum.value + '%'", "labelOverlap": false, "tickCount": 12}},
                    "y": {"field": "lo", "type": "quantitative", "title": "Expression CV*", "scale": {"domain": [-35, 776], "nice": false, "zero": false}, "axis": {"values": [0,200,400,600], "labelExpr": "datum.value + '%'", "labelOverlap": false, "tickCount": 12}},
                    "y2": {"field": "hi"}}},
      {"data": {"values": [{}]}, "mark": {"type": "rule", "color": "#8c8c8c", "strokeDash": [4,3]}, "encoding": {"y": {"datum": 100, "type": "quantitative"}}},
      {"data": {"values": [{}]}, "mark": {"type": "rule", "color": "#a8a8a8", "strokeDash": [4,3], "strokeWidth": 1.5}, "encoding": {"x": {"datum": 100, "type": "quantitative"}}},
      {"data": {"name": "cC"}, "mark": {"type": "line", "color": "#333", "strokeWidth": 1.2, "interpolate": "monotone"}, "encoding": {"x": {"field": "x", "type": "quantitative"}, "y": {"field": "y", "type": "quantitative"}}},
      {"data": {"name": "pC"}, "mark": {"type": "circle", "size": 14, "opacity": 1}, "encoding": {"x": {"field": "x", "type": "quantitative"}, "y": {"field": "y", "type": "quantitative"}, "color": {"field": "g", "type": "nominal", "scale": {"domain": ["H","L","M"], "range": ["#EE7D2C","#3D9E44","#000000"]}, "legend": null}}},
      {"data": {"values": [{"x": 33, "y": 713, "t": "High Noise", "g": "H"}, {"x": 74, "y": 19, "t": "Low Noise", "g": "L"}]}, "mark": {"type": "text", "fontWeight": "bold", "fontSize": 8.5}, "encoding": {"x": {"field": "x", "type": "quantitative"}, "y": {"field": "y", "type": "quantitative"}, "text": {"field": "t"}, "color": {"field": "g", "type": "nominal", "legend": null}}}
    ]},
    {"title": "G", "width": 147, "height": 114, "layer": [
      {"data": {"name": "bG"}, "mark": {"type": "area", "opacity": 0.3, "interpolate": "monotone"},
       "encoding": {"x": {"field": "x", "type": "quantitative", "title": "Median Expression", "scale": {"domain": [-6, 135], "nice": false, "zero": false}, "axis": {"values": [0,20,40,60,80,100,120], "labelExpr": "datum.value + '%'", "labelOverlap": false, "tickCount": 12}},
                    "y": {"field": "lo", "type": "quantitative", "stack": null, "title": "Relative Fitness", "scale": {"domain": [0.933, 1.0117], "nice": false, "zero": false}, "axis": {"values": [0.94,0.96,0.98,1.0], "format": ".2f", "labelOverlap": false, "tickCount": 12}},
                    "y2": {"field": "hi"},
                    "color": {"field": "g", "type": "nominal", "scale": {"domain": ["H","L","M"], "range": ["#EE7D2C","#3D9E44","#000000"]}, "legend": null}}},
      {"data": {"values": [{}]}, "mark": {"type": "rule", "color": "#8c8c8c", "strokeDash": [4,3]}, "encoding": {"y": {"datum": 1.0, "type": "quantitative"}}},
      {"data": {"values": [{}]}, "mark": {"type": "rule", "color": "#8c8c8c", "strokeDash": [4,3]}, "encoding": {"x": {"datum": 100, "type": "quantitative"}}},
      {"data": {"name": "fit"}, "mark": {"type": "circle", "size": 14, "opacity": 1}, "encoding": {"x": {"field": "x", "type": "quantitative"}, "y": {"field": "f", "type": "quantitative"}, "color": {"field": "c", "type": "nominal", "legend": null}}},
      {"data": {"name": "bG"}, "mark": {"type": "line", "strokeDash": [5,3], "strokeWidth": 1.6, "interpolate": "monotone"}, "encoding": {"x": {"field": "x", "type": "quantitative"}, "y": {"field": "y", "type": "quantitative"}, "color": {"field": "g", "type": "nominal", "legend": null}}},
      {"data": {"values": [{"x": 22.3, "y": 1.0063, "t": "High Noise", "g": "H"}, {"x": 72, "y": 0.9388, "t": "Low Noise", "g": "L"}]}, "mark": {"type": "text", "fontWeight": "bold", "fontSize": 8.5}, "encoding": {"x": {"field": "x", "type": "quantitative"}, "y": {"field": "y", "type": "quantitative"}, "text": {"field": "t"}, "color": {"field": "g", "type": "nominal", "legend": null}}}
    ]},
    {"title": "K", "width": 147, "height": 114, "layer": [
      {"data": {"name": "fit"}, "mark": {"type": "circle", "size": 14, "opacity": 1},
       "encoding": {"x": {"field": "x", "type": "quantitative", "title": "Median Expression", "scale": {"domain": [-6, 135], "nice": false, "zero": false}, "axis": {"values": [0,20,40,60,80,100,120], "labelExpr": "datum.value + '%'", "labelOverlap": false, "tickCount": 12}},
                    "y": {"field": "f", "type": "quantitative", "title": "Relative Fitness", "scale": {"domain": [0.9337, 1.0052], "nice": false, "zero": false}, "axis": {"values": [0.94,0.96,0.98,1.0], "format": ".2f", "labelOverlap": false, "tickCount": 12}},
                    "color": {"field": "c", "type": "nominal", "scale": {"domain": ["H","L","M"], "range": ["#EE7D2C","#3D9E44","#000000"]}, "legend": null}}},
      {"data": {"name": "opt"}, "mark": {"type": "line", "color": "#333", "strokeWidth": 1.2, "interpolate": "monotone"}, "encoding": {"x": {"field": "x", "type": "quantitative"}, "y": {"field": "y", "type": "quantitative"}}},
      {"data": {"values": [{}]}, "mark": {"type": "rule", "color": "#9a9a9a", "strokeDash": [4,3]}, "encoding": {"y": {"datum": 1.0, "type": "quantitative"}}},
      {"data": {"values": [{}]}, "mark": {"type": "rule", "color": "#222", "strokeDash": [4,3], "strokeWidth": 1.3}, "encoding": {"y": {"datum": 0.995, "type": "quantitative"}}},
      {"data": {"values": [{}]}, "mark": {"type": "rule", "color": "#222", "strokeDash": [4,3], "strokeWidth": 1.3}, "encoding": {"x": {"datum": 73, "type": "quantitative"}}},
      {"data": {"values": [{}]}, "mark": {"type": "rule", "color": "#9a9a9a", "strokeDash": [4,3]}, "encoding": {"x": {"datum": 100, "type": "quantitative"}}},
      {"data": {"values": [{"x": 4.5, "y": 0.99775, "t": "I"}]}, "mark": {"type": "text", "font": "DejaVu Serif", "fontSize": 10.5, "baseline": "middle"}, "encoding": {"x": {"field": "x", "type": "quantitative"}, "y": {"field": "y", "type": "quantitative"}, "text": {"field": "t"}}},
      {"data": {"values": [{"x": 7, "y": 0.99765, "t": "0.005"}]}, "mark": {"type": "text", "fontSize": 7.5, "align": "left", "baseline": "middle"}, "encoding": {"x": {"field": "x", "type": "quantitative"}, "y": {"field": "y", "type": "quantitative"}, "text": {"field": "t"}}},
      {"data": {"values": [{"x": 46, "y": 0.9479, "t": "Far from"}, {"x": 46, "y": 0.941, "t": "optimum"}, {"x": 100, "y": 0.9479, "t": "Close to"}, {"x": 100, "y": 0.941, "t": "optimum"}]}, "mark": {"type": "text", "fontSize": 9.5, "baseline": "middle"}, "encoding": {"x": {"field": "x", "type": "quantitative"}, "y": {"field": "y", "type": "quantitative"}, "text": {"field": "t"}}}
    ]},
    {"title": "D", "width": 149, "height": 114, "layer": [
      {"data": {"name": "pD"}, "mark": {"type": "rule", "color": "#b8b8b8", "strokeWidth": 1.5},
       "encoding": {"x": {"field": "x", "type": "quantitative", "title": "Median Expression", "scale": {"domain": [-5, 136], "nice": false, "zero": false}, "axis": {"values": [0,20,40,60,80,100,120], "labelExpr": "datum.value + '%'", "labelOverlap": false, "tickCount": 12}},
                    "y": {"field": "lo", "type": "quantitative", "title": "Expression LogCV*", "scale": {"domain": [-1.88, 3.22], "nice": false, "zero": false}, "axis": {"values": [-1,0,1,2,3], "labelOverlap": false, "tickCount": 12}},
                    "y2": {"field": "hi"}}},
      {"data": {"values": [{}]}, "mark": {"type": "rule", "color": "#8c8c8c", "strokeDash": [4,3]}, "encoding": {"y": {"datum": 0, "type": "quantitative"}}},
      {"data": {"values": [{}]}, "mark": {"type": "rule", "color": "#a8a8a8", "strokeDash": [4,3], "strokeWidth": 1.5}, "encoding": {"x": {"datum": 100, "type": "quantitative"}}},
      {"data": {"name": "cD"}, "mark": {"type": "line", "color": "#333", "strokeWidth": 1.2, "interpolate": "monotone"}, "encoding": {"x": {"field": "x", "type": "quantitative"}, "y": {"field": "y", "type": "quantitative"}}},
      {"data": {"name": "pD"}, "mark": {"type": "circle", "size": 14, "opacity": 1}, "encoding": {"x": {"field": "x", "type": "quantitative"}, "y": {"field": "y", "type": "quantitative"}, "color": {"field": "g", "type": "nominal", "scale": {"domain": ["H","L","M"], "range": ["#EE7D2C","#3D9E44","#000000"]}, "legend": null}}},
      {"data": {"values": [{"x": 33.5, "y": 2.79, "t": "High Noise", "g": "H"}, {"x": 110.5, "y": -1.22, "t": "Low Noise", "g": "L"}]}, "mark": {"type": "text", "fontWeight": "bold", "fontSize": 8.5}, "encoding": {"x": {"field": "x", "type": "quantitative"}, "y": {"field": "y", "type": "quantitative"}, "text": {"field": "t"}, "color": {"field": "g", "type": "nominal", "legend": null}}}
    ]},
    {"title": "H", "width": 147, "height": 114, "layer": [
      {"data": {"name": "bH"}, "mark": {"type": "area", "opacity": 0.3, "interpolate": "monotone"},
       "encoding": {"x": {"field": "x", "type": "quantitative", "title": "Median Expression", "scale": {"domain": [-6, 135], "nice": false, "zero": false}, "axis": {"values": [0,20,40,60,80,100,120], "labelExpr": "datum.value + '%'", "labelOverlap": false, "tickCount": 12}},
                    "y": {"field": "lo", "type": "quantitative", "stack": null, "title": "Relative Fitness", "scale": {"domain": [0.933, 1.0117], "nice": false, "zero": false}, "axis": {"values": [0.94,0.96,0.98,1.0], "format": ".2f", "labelOverlap": false, "tickCount": 12}},
                    "y2": {"field": "hi"},
                    "color": {"field": "g", "type": "nominal", "scale": {"domain": ["H","L","M"], "range": ["#EE7D2C","#3D9E44","#000000"]}, "legend": null}}},
      {"data": {"values": [{}]}, "mark": {"type": "rule", "color": "#8c8c8c", "strokeDash": [4,3]}, "encoding": {"y": {"datum": 1.0, "type": "quantitative"}}},
      {"data": {"values": [{}]}, "mark": {"type": "rule", "color": "#8c8c8c", "strokeDash": [4,3]}, "encoding": {"x": {"datum": 100, "type": "quantitative"}}},
      {"data": {"name": "fit"}, "mark": {"type": "circle", "size": 14, "opacity": 1}, "encoding": {"x": {"field": "x", "type": "quantitative"}, "y": {"field": "f", "type": "quantitative"}, "color": {"field": "d", "type": "nominal", "legend": null}}},
      {"data": {"name": "bH"}, "mark": {"type": "line", "strokeDash": [5,3], "strokeWidth": 1.6, "interpolate": "monotone"}, "encoding": {"x": {"field": "x", "type": "quantitative"}, "y": {"field": "y", "type": "quantitative"}, "color": {"field": "g", "type": "nominal", "legend": null}}},
      {"data": {"values": [{"x": 26.3, "y": 1.0063, "t": "High Noise", "g": "H"}, {"x": 75, "y": 0.9395, "t": "Low Noise", "g": "L"}]}, "mark": {"type": "text", "fontWeight": "bold", "fontSize": 8.5}, "encoding": {"x": {"field": "x", "type": "quantitative"}, "y": {"field": "y", "type": "quantitative"}, "text": {"field": "t"}, "color": {"field": "g", "type": "nominal", "legend": null}}}
    ]},
    {"title": "L", "width": 147, "height": 114, "layer": [
      {"data": {"name": "fit"}, "mark": {"type": "circle", "size": 14, "opacity": 1},
       "encoding": {"x": {"field": "x", "type": "quantitative", "title": "Median Expression", "scale": {"domain": [-6, 135], "nice": false, "zero": false}, "axis": {"values": [0,20,40,60,80,100,120], "labelExpr": "datum.value + '%'", "labelOverlap": false, "tickCount": 12}},
                    "y": {"field": "f", "type": "quantitative", "title": "Relative Fitness", "scale": {"domain": [0.9357, 1.0025], "nice": false, "zero": false}, "axis": {"values": [0.94,0.96,0.98,1.0], "format": ".2f", "labelOverlap": false, "tickCount": 12}},
                    "color": {"field": "d", "type": "nominal", "scale": {"domain": ["H","L","M"], "range": ["#EE7D2C","#3D9E44","#000000"]}, "legend": null}}},
      {"data": {"name": "opt"}, "mark": {"type": "line", "color": "#333", "strokeWidth": 1.2, "interpolate": "monotone"}, "encoding": {"x": {"field": "x", "type": "quantitative"}, "y": {"field": "y", "type": "quantitative"}}},
      {"data": {"values": [{}]}, "mark": {"type": "rule", "color": "#9a9a9a", "strokeDash": [4,3]}, "encoding": {"y": {"datum": 1.0, "type": "quantitative"}}},
      {"data": {"values": [{}]}, "mark": {"type": "rule", "color": "#222", "strokeDash": [4,3], "strokeWidth": 1.3}, "encoding": {"y": {"datum": 0.995, "type": "quantitative"}}},
      {"data": {"values": [{}]}, "mark": {"type": "rule", "color": "#222", "strokeDash": [4,3], "strokeWidth": 1.3}, "encoding": {"x": {"datum": 73, "type": "quantitative"}}},
      {"data": {"values": [{}]}, "mark": {"type": "rule", "color": "#9a9a9a", "strokeDash": [4,3]}, "encoding": {"x": {"datum": 100, "type": "quantitative"}}},
      {"data": {"values": [{"x": 46, "y": 0.9493, "t": "Far from"}, {"x": 46, "y": 0.9429, "t": "optimum"}, {"x": 100, "y": 0.9493, "t": "Close to"}, {"x": 100, "y": 0.9429, "t": "optimum"}]}, "mark": {"type": "text", "fontSize": 9.5, "baseline": "middle"}, "encoding": {"x": {"field": "x", "type": "quantitative"}, "y": {"field": "y", "type": "quantitative"}, "text": {"field": "t"}}}
    ]}
  ],
  "config": {
    "font": "Liberation Sans",
    "view": {"stroke": "#000", "strokeWidth": 1},
    "axis": {"grid": false, "domain": false, "tickColor": "#000", "tickSize": 3, "labelFont": "Liberation Sans", "labelFontSize": 6.5, "labelFontWeight": "bold", "labelColor": "#000", "titleFont": "Liberation Sans", "titleFontSize": 9.5, "titleFontWeight": "bold", "titleColor": "#000", "labelFlush": false, "labelOverlap": false},
    "axisX": {"labelPadding": 3, "titlePadding": 3},
    "axisY": {"labelAngle": -90, "labelAlign": "center", "labelBaseline": "bottom", "labelPadding": 2, "titlePadding": 8},
    "title": {"font": "Liberation Sans", "fontSize": 13, "fontWeight": "bold", "anchor": "start", "frame": "bounds", "offset": -1, "color": "#000"},
    "text": {"font": "Liberation Sans"}
  }
}
